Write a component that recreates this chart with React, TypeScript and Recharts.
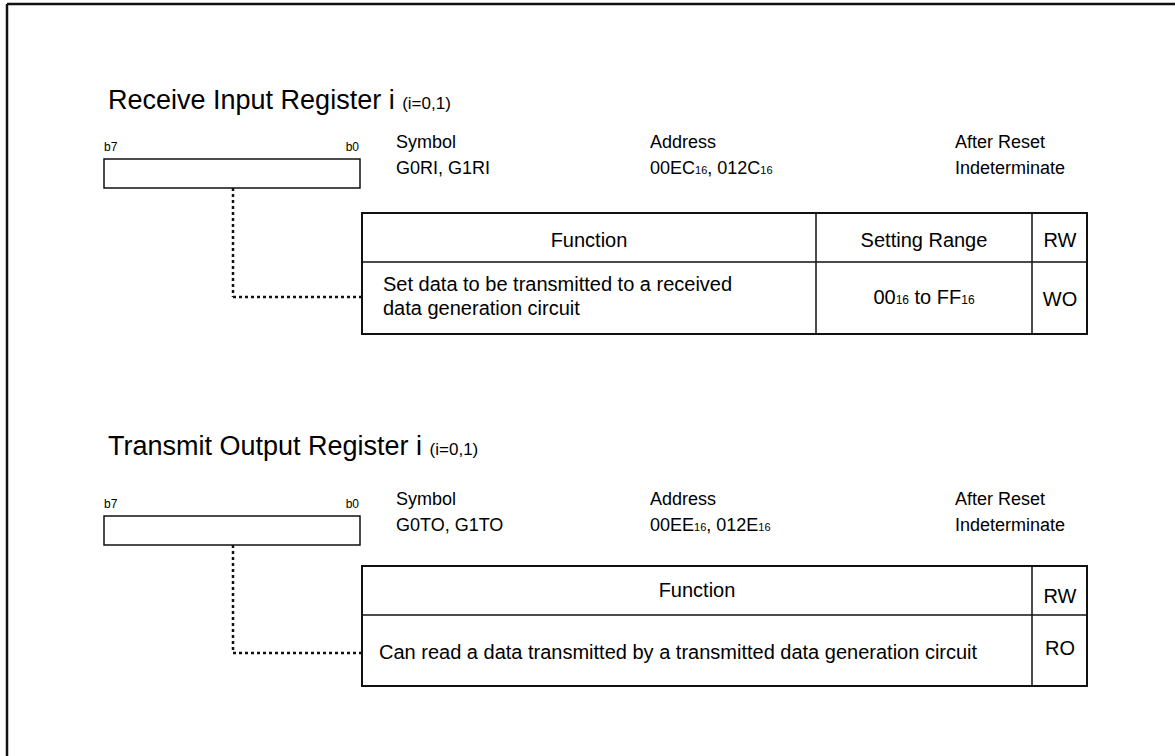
import React from "react";
import {
  ComposedChart,
  XAxis,
  YAxis,
  Scatter,
  ReferenceArea,
  ReferenceLine,
} from "recharts";

const W = 1175;
const H = 756;
const FONT = "'Liberation Sans', Arial, Helvetica, sans-serif";

// text items: {..} marks a smaller run (subscript / note)
const titleLabels = [
  { x: 108, y: 109, text: "Receive Input Register i {(i=0,1)}" },
  { x: 108, y: 455, text: "Transmit Output Register i {(i=0,1)}" },
];

const bitLabels = [
  { x: 104, y: 151, text: "b7", side: "l" },
  { x: 359, y: 151, text: "b0", side: "r" },
  { x: 104, y: 508, text: "b7", side: "l" },
  { x: 359, y: 508, text: "b0", side: "r" },
];

const infoLabels = [
  { x: 396, y: 148, text: "Symbol" },
  { x: 396, y: 174, text: "G0RI, G1RI" },
  { x: 650, y: 148, text: "Address" },
  { x: 650, y: 174, text: "00EC{16}, 012C{16}" },
  { x: 955, y: 148, text: "After Reset" },
  { x: 955, y: 174, text: "Indeterminate" },
  { x: 396, y: 505, text: "Symbol" },
  { x: 396, y: 531, text: "G0TO, G1TO" },
  { x: 650, y: 505, text: "Address" },
  { x: 650, y: 531, text: "00EE{16}, 012E{16}" },
  { x: 955, y: 505, text: "After Reset" },
  { x: 955, y: 531, text: "Indeterminate" },
];

const cellCentered = [
  { x: 589, y: 247, text: "Function" },
  { x: 924, y: 247, text: "Setting Range" },
  { x: 1060, y: 247, text: "RW" },
  { x: 924, y: 304, text: "00{16} to FF{16}" },
  { x: 1060, y: 306, text: "WO" },
  { x: 697, y: 597, text: "Function" },
  { x: 1060, y: 603, text: "RW" },
  { x: 1060, y: 655, text: "RO" },
];

const cellLeft = [
  { x: 383, y: 291, text: "Set data to be transmitted to a received" },
  { x: 383, y: 315, text: "data generation circuit" },
  { x: 379, y: 659, text: "Can read a data transmitted by a transmitted data generation circuit" },
];

// register boxes
const registers = [
  { x1: 104, x2: 360, y1: 159, y2: 188 },
  { x1: 104, x2: 360, y1: 516, y2: 545 },
];

// tables: outer box, header split and column dividers
const tables = [
  { x1: 362, x2: 1087, y1: 213, yMid: 262, y2: 334, cols: [816, 1032] },
  { x1: 362, x2: 1087, y1: 566, yMid: 615, y2: 686, cols: [1032] },
];

// dotted leader from register to table
const leaders = [
  { x: 233, yTop: 188, yBottom: 297, xEnd: 362 },
  { x: 233, yTop: 545, yBottom: 653, xEnd: 362 },
];

const styles: Record<string, { size: number; small: number; anchor: string }> = {
  title: { size: 27, small: 17, anchor: "start" },
  bitl: { size: 12, small: 9, anchor: "start" },
  bitr: { size: 12, small: 9, anchor: "end" },
  info: { size: 18, small: 11, anchor: "start" },
  cellC: { size: 20, small: 12, anchor: "middle" },
  cellL: { size: 20, small: 12, anchor: "start" },
};

function parts(text: string) {
  const out: { t: string; small: boolean }[] = [];
  const re = /\{([^}]*)\}|([^{]+)/g;
  let m;
  while ((m = re.exec(text))) {
    if (m[1] !== undefined) out.push({ t: m[1], small: true });
    else out.push({ t: m[2], small: false });
  }
  return out;
}

function makeLabel(kind: string) {
  return (props: any) => {
    const { cx, cy, payload } = props;
    const k = kind === "bit" ? (payload.side === "r" ? "bitr" : "bitl") : kind;
    const st = styles[k];
    return (
      <text
        x={cx}
        y={cy}
        textAnchor={st.anchor as any}
        fontFamily={FONT}
        fontSize={st.size}
        fill="#000"
      >
        {parts(payload.text).map((p, i) => (
          <tspan key={i} fontSize={p.small ? st.small : st.size}>
            {p.t}
          </tspan>
        ))}
      </text>
    );
  };
}

export default function App() {
  return (
    <div style={{ position: "absolute", left: 0, top: 0, background: "#fff" }}>
      <ComposedChart
        width={W}
        height={H}
        margin={{ top: 0, right: 0, bottom: 0, left: 0 }}
      >
        <XAxis type="number" dataKey="x" domain={[0, W]} hide allowDataOverflow />
        <YAxis type="number" dataKey="y" domain={[0, H]} reversed hide allowDataOverflow />

        {/* page frame */}
        <ReferenceLine
          segment={[{ x: 7, y: 4 }, { x: W, y: 4 }]}
          stroke="#111"
          strokeWidth={2.5}
          ifOverflow="visible"
        />
        <ReferenceLine
          segment={[{ x: 7, y: 4 }, { x: 7, y: H }]}
          stroke="#111"
          strokeWidth={2.5}
          ifOverflow="visible"
        />

        {registers.map((r, i) => (
          <ReferenceArea
            key={`reg-${i}`}
            x1={r.x1}
            x2={r.x2}
            y1={r.y1}
            y2={r.y2}
            fill="#fff"
            fillOpacity={1}
            stroke="#111"
            strokeWidth={1.5}
            ifOverflow="visible"
          />
        ))}

        {leaders.map((l, i) => (
          <ReferenceLine
            key={`lv-${i}`}
            segment={[{ x: l.x, y: l.yTop }, { x: l.x, y: l.yBottom }]}
            stroke="#111"
            strokeWidth={2.5}
            strokeDasharray="3 3"
            ifOverflow="visible"
          />
        ))}
        {leaders.map((l, i) => (
          <ReferenceLine
            key={`lh-${i}`}
            segment={[{ x: l.x, y: l.yBottom }, { x: l.xEnd, y: l.yBottom }]}
            stroke="#111"
            strokeWidth={2.5}
            strokeDasharray="3 3"
            ifOverflow="visible"
          />
        ))}

        {tables.map((t, i) => (
          <ReferenceArea
            key={`tbl-${i}`}
            x1={t.x1}
            x2={t.x2}
            y1={t.y1}
            y2={t.y2}
            fill="#fff"
            fillOpacity={1}
            stroke="#111"
            strokeWidth={2}
            ifOverflow="visible"
          />
        ))}
        {tables.map((t, i) => (
          <ReferenceLine
            key={`tmid-${i}`}
            segment={[{ x: t.x1, y: t.yMid }, { x: t.x2, y: t.yMid }]}
            stroke="#111"
            strokeWidth={1.5}
            ifOverflow="visible"
          />
        ))}
        {tables.flatMap((t, i) =>
          t.cols.map((c, j) => (
            <ReferenceLine
              key={`tcol-${i}-${j}`}
              segment={[{ x: c, y: t.y1 }, { x: c, y: t.y2 }]}
              stroke="#111"
              strokeWidth={1.5}
              ifOverflow="visible"
            />
          ))
        )}

        <Scatter data={titleLabels} shape={makeLabel("title")} isAnimationActive={false} />
        <Scatter data={bitLabels} shape={makeLabel("bit")} isAnimationActive={false} />
        <Scatter data={infoLabels} shape={makeLabel("info")} isAnimationActive={false} />
        <Scatter data={cellCentered} shape={makeLabel("cellC")} isAnimationActive={false} />
        <Scatter data={cellLeft} shape={makeLabel("cellL")} isAnimationActive={false} />
      </ComposedChart>
    </div>
  );
}
